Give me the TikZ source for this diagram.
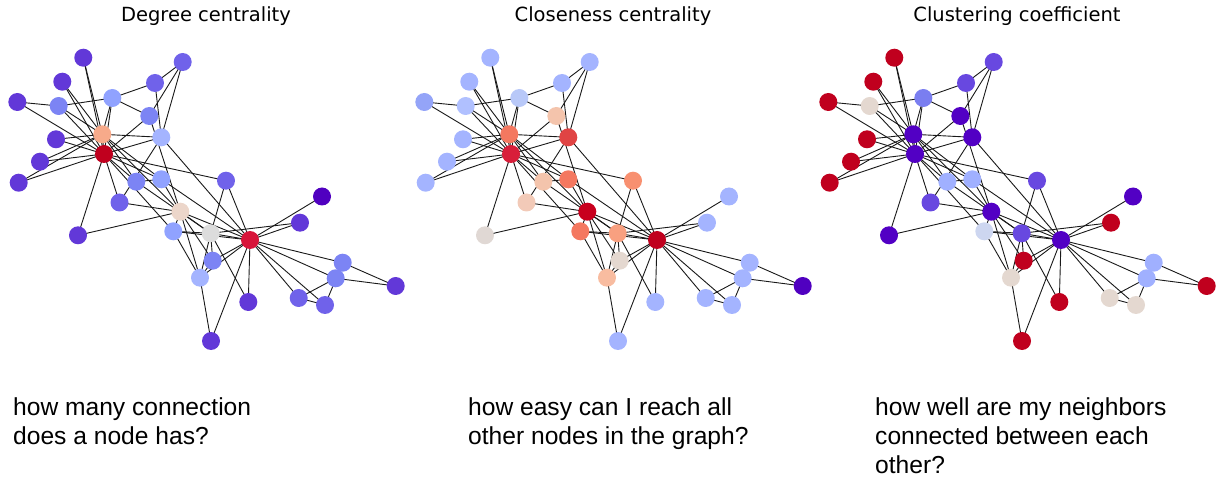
\documentclass[tikz,border=0pt]{standalone}
\usepackage{fontspec}
\setmainfont{Liberation Sans}
\newfontfamily\titlefont{DejaVu Sans}
\pgfdeclarelayer{bg}
\pgfsetlayers{bg,main}
% degree palette
\definecolor{dA}{HTML}{5000C0}
\definecolor{dB}{HTML}{6238D8}
\definecolor{dC}{HTML}{7062EA}
\definecolor{dD}{HTML}{7C84F4}
\definecolor{dE}{HTML}{90A2FF}
\definecolor{dF}{HTML}{A4B4FF}
\definecolor{dW}{HTML}{DCDCDC}
\definecolor{dR}{HTML}{ECD6CA}
\definecolor{dI}{HTML}{F7AA8A}
\definecolor{dZ}{HTML}{D8143A}
\definecolor{dL}{HTML}{C0001E}
% closeness palette
\definecolor{cb}{HTML}{A4B4FF}
\definecolor{cC}{HTML}{94A4F8}
\definecolor{cD}{HTML}{B0C0FF}
\definecolor{cE}{HTML}{B8C8F8}
\definecolor{cAF}{HTML}{5000C0}
\definecolor{cU}{HTML}{E0D8D4}
\definecolor{cAB}{HTML}{E4D8D0}
\definecolor{cQ}{HTML}{F2CAB8}
\definecolor{cH}{HTML}{F4C4AC}
\definecolor{cX}{HTML}{F8BCA0}
\definecolor{cW}{HTML}{F8A080}
\definecolor{cT}{HTML}{F89070}
\definecolor{cS}{HTML}{F47860}
\definecolor{cJ}{HTML}{E04444}
\definecolor{cL}{HTML}{D81E3A}
\definecolor{cR}{HTML}{C8001E}
\definecolor{cZ}{HTML}{C0001E}
% clustering palette
\definecolor{kV}{HTML}{5200C4}
\definecolor{kM}{HTML}{6848E0}
\definecolor{kE}{HTML}{7A7EF0}
\definecolor{kB}{HTML}{A0B0FF}
\definecolor{kG}{HTML}{CDD6F0}
\definecolor{kP}{HTML}{E4D8D0}
\definecolor{kR}{HTML}{C0001E}
\begin{document}
\begin{tikzpicture}[x=1pt,y=-1pt,
  vtx/.style={circle,inner sep=0pt,minimum size=18pt,draw=none},
  link/.style={line width=0.9pt,draw=black!90},
  ttl/.style={font=\titlefont\fontsize{19.5}{23}\selectfont,anchor=base,inner sep=0pt},
  qtext/.style={font=\fontsize{24.6}{29}\selectfont,anchor=base west,inner sep=0pt}]
\useasboundingbox (0,0) rectangle (1221,478);

\foreach \i/\x/\y/\ca/\cb/\cc in {
0/250/240/dZ/cZ/kV,
1/210.7/233.3/dW/cW/kM,
2/180.3/211.7/dR/cR/kV,
3/200/277.7/dF/cX/kP,
4/298.7/298/dC/cb/kP,
5/342.7/262.7/dD/cb/kB,
6/335.7/278.3/dD/cb/kB,
7/212.7/260.7/dD/cAB/kR,
8/161.3/179.3/dE/cS/kB,
9/78/235.3/dB/cU/kV,
10/325/305/dC/cb/kP,
11/322/196.5/dA/cb/kV,
12/211/341/dB/cb/kR,
13/173.3/231.3/dE/cS/kG,
14/83.3/57.7/dB/cb/kR,
15/62.3/81.7/dB/cb/kR,
16/395.7/286/dB/cAF/kR,
17/300/222.7/dB/cb/kR,
18/56/139.3/dB/cb/kR,
19/226/180.7/dC/cT/kM,
20/40/161.7/dB/cb/kR,
21/248.3/302/dB/cb/kR,
22/18.7/182.7/dB/cb/kR,
23/112.3/98/dE/cE/kE,
24/182.7/62/dC/cb/kM,
25/155/83/dC/cb/kM,
26/17.3/102/dB/cC/kR,
27/149.3/116/dD/cH/kV,
28/119.5/202.5/dC/cQ/kM,
29/58.7/106/dD/cD/kP,
30/136.3/181.7/dD/cH/kB,
31/161.3/137.3/dF/cJ/kV,
32/102.3/134.3/dI/cS/kV,
33/104/154/dL/cL/kV}{
  \node[vtx,fill=\ca] (a\i) at (\x,\y) {};
  \node[vtx,fill=\cb] (b\i) at (\x+407,\y) {};
  \node[vtx,fill=\cc] (c\i) at (\x+811,\y) {};
}

\begin{pgfonlayer}{bg}
\foreach \u/\v in {0/1,0/2,0/3,0/4,0/5,0/6,0/7,0/8,0/10,0/11,0/12,0/13,0/17,0/19,0/21,0/31,
  1/2,1/3,1/7,1/13,1/17,1/19,1/21,1/30,
  2/3,2/7,2/8,2/9,2/13,2/27,2/28,2/32,
  3/7,3/12,3/13,4/6,4/10,5/6,5/10,5/16,6/16,
  8/30,8/32,8/33,9/33,13/33,14/32,14/33,15/32,15/33,18/32,18/33,19/33,
  20/32,20/33,22/32,22/33,23/25,23/27,23/29,23/32,23/33,24/25,24/27,24/31,
  25/31,26/29,26/33,27/33,28/31,28/33,29/32,29/33,30/32,30/33,31/32,31/33,32/33}{
  \foreach \p in {a,b,c}{\draw[link] (\p\u.center) -- (\p\v.center);}
}
\end{pgfonlayer}

\node[ttl] (t1) at (206,22) {Degree centrality};
\node[ttl] (t2) at (613,22) {Closeness centrality};
\node[ttl] (t3) at (1017,22) {Clustering coefficient};

\node[qtext] (q1a) at (13,415) {how many connection};
\node[qtext] (q1b) at (13,444) {does a node has?};
\node[qtext] (q2a) at (468,415) {how easy can I reach all};
\node[qtext] (q2b) at (468,444) {other nodes in the graph?};
\node[qtext] (q3a) at (875,415) {how well are my neighbors};
\node[qtext] (q3b) at (875,444) {connected between each};
\node[qtext] (q3c) at (875,473) {other?};
\end{tikzpicture}
\end{document}
